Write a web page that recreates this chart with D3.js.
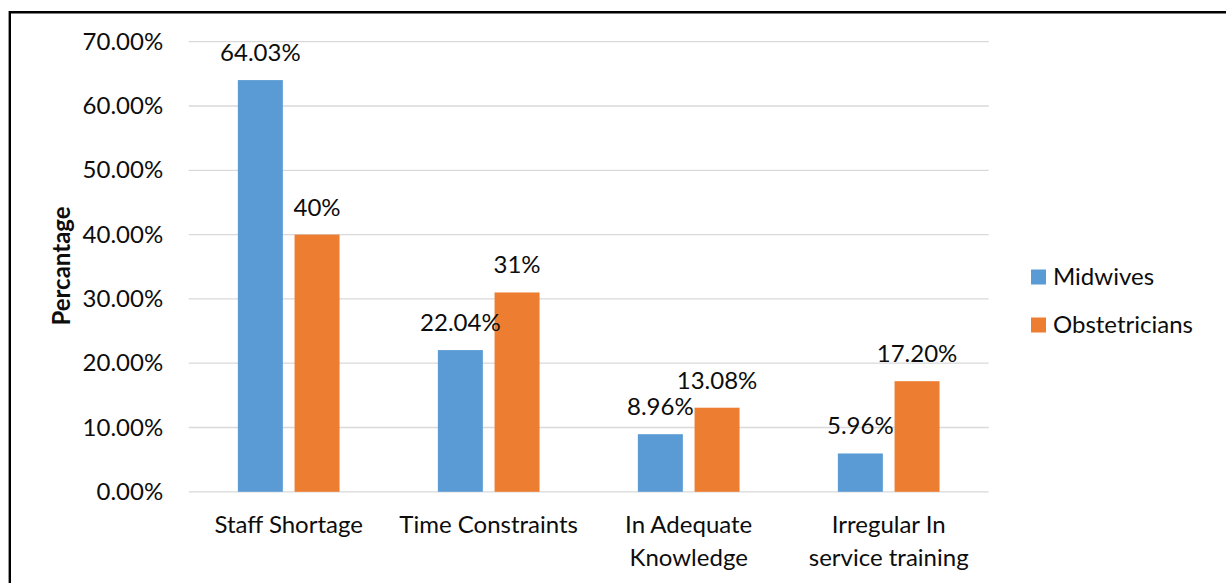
<!DOCTYPE html>
<html>
<head>
<meta charset="utf-8">
<script src="https://cdn.jsdelivr.net/npm/d3@7"></script>
<style>
  html, body { margin: 0; padding: 0; background: #fff; }
  svg { display: block; font-family: Lato, "Open Sans", sans-serif; }
</style>
</head>
<body>
<svg id="chart" width="1226" height="583"></svg>
<script>
// ---- data ----
const categories = ["Staff Shortage", "Time Constraints", "In Adequate\nKnowledge", "Irregular In\nservice training"];
const seriesNames = ["Midwives", "Obstetricians"];
const midwives = [0.6403, 0.2204, 0.0896, 0.0596];
const obstetricians = [0.40, 0.31, 0.1308, 0.172];
const midwivesLabels = ["64.03%", "22.04%", "8.96%", "5.96%"];
const obstetriciansLabels = ["40%", "31%", "13.08%", "17.20%"];
const yTicks = [0, 0.1, 0.2, 0.3, 0.4, 0.5, 0.6, 0.7];
const colors = ["#5B9BD5", "#ED7D31"];

const seriesValues = [midwives, obstetricians];
const seriesLabels = [midwivesLabels, obstetriciansLabels];

const svg = d3.select("#chart");
const W = 1226, H = 583;
const plot = { left: 188.7, right: 988.7, top: 41.7, bottom: 491.8 };
const textColor = "#0d0d0d";
const fs = 24;

// border (top + left visible)
svg.append("line").attr("x1", 9.8).attr("x2", W).attr("y1", 12.2).attr("y2", 12.2)
  .attr("stroke", "#000").attr("stroke-width", 2.4);
svg.append("line").attr("x1", 9.8).attr("x2", 9.8).attr("y1", 11).attr("y2", H)
  .attr("stroke", "#000").attr("stroke-width", 2.4);

const y = d3.scaleLinear().domain([0, 0.7]).range([plot.bottom, plot.top]);
const x0 = d3.scaleBand().domain(categories).range([plot.left, plot.right]).padding(0);
const x1 = d3.scaleBand().domain(seriesNames).range([0, x0.bandwidth()])
  .paddingInner(0.2063).paddingOuter(0.8668);

// gridlines
const grid = svg.append("g");
grid.selectAll("line").data(yTicks).join("line")
  .attr("x1", plot.left).attr("x2", plot.right)
  .attr("y1", d => y(d)).attr("y2", d => y(d))
  .attr("stroke", "#D9D9D9").attr("stroke-width", 1.3);

// y axis labels
const yAxis = d3.axisLeft(y).tickValues(yTicks).tickFormat(d3.format(".2%")).tickSize(0).tickPadding(0);
const yg = svg.append("g").attr("transform", `translate(${plot.left - 25.5},0)`).call(yAxis);
yg.select(".domain").remove();
yg.selectAll("text").attr("font-size", fs).attr("fill", textColor)
  .attr("font-family", "Lato, sans-serif");

// bars
const groups = svg.append("g").selectAll("g").data(categories).join("g")
  .attr("transform", d => `translate(${x0(d)},0)`);
groups.selectAll("rect")
  .data((c, i) => seriesNames.map((s, k) => ({ s, k, v: seriesValues[k][i] })))
  .join("rect")
  .attr("x", d => x1(d.s)).attr("width", x1.bandwidth())
  .attr("y", d => y(d.v)).attr("height", d => y(0) - y(d.v))
  .attr("fill", d => colors[d.k]);

// data labels
groups.selectAll("text.lbl")
  .data((c, i) => seriesNames.map((s, k) => ({ s, k, v: seriesValues[k][i], t: seriesLabels[k][i] })))
  .join("text").attr("class", "lbl")
  .attr("x", d => x1(d.s) + x1.bandwidth() / 2)
  .attr("y", d => y(d.v) - 19)
  .attr("text-anchor", "middle").attr("font-size", fs).attr("fill", textColor)
  .text(d => d.t);

// category labels
const cat = svg.append("g").selectAll("text").data(categories).join("text")
  .attr("x", d => x0(d) + x0.bandwidth() / 2)
  .attr("y", 533)
  .attr("text-anchor", "middle").attr("font-size", fs).attr("fill", textColor);
cat.each(function (d) {
  const lines = d.split("\n");
  const t = d3.select(this);
  lines.forEach((ln, i) => {
    t.append("tspan").attr("x", x0(d) + x0.bandwidth() / 2).attr("dy", i === 0 ? 0 : 33).text(ln);
  });
});

// y axis title
svg.append("text")
  .attr("transform", "translate(70,266) rotate(-90)")
  .attr("text-anchor", "middle").attr("font-size", fs).attr("font-weight", "bold")
  .attr("fill", textColor).text("Percantage");

// legend
const leg = svg.append("g").selectAll("g").data(seriesNames).join("g")
  .attr("transform", (d, i) => `translate(1031,${277 + i * 48})`);
leg.append("rect").attr("x", 0).attr("y", -7.5).attr("width", 15).attr("height", 15)
  .attr("fill", (d, i) => colors[i]);
leg.append("text").attr("x", 22).attr("y", 8).attr("font-size", fs).attr("fill", textColor).text(d => d);
</script>
</body>
</html>
